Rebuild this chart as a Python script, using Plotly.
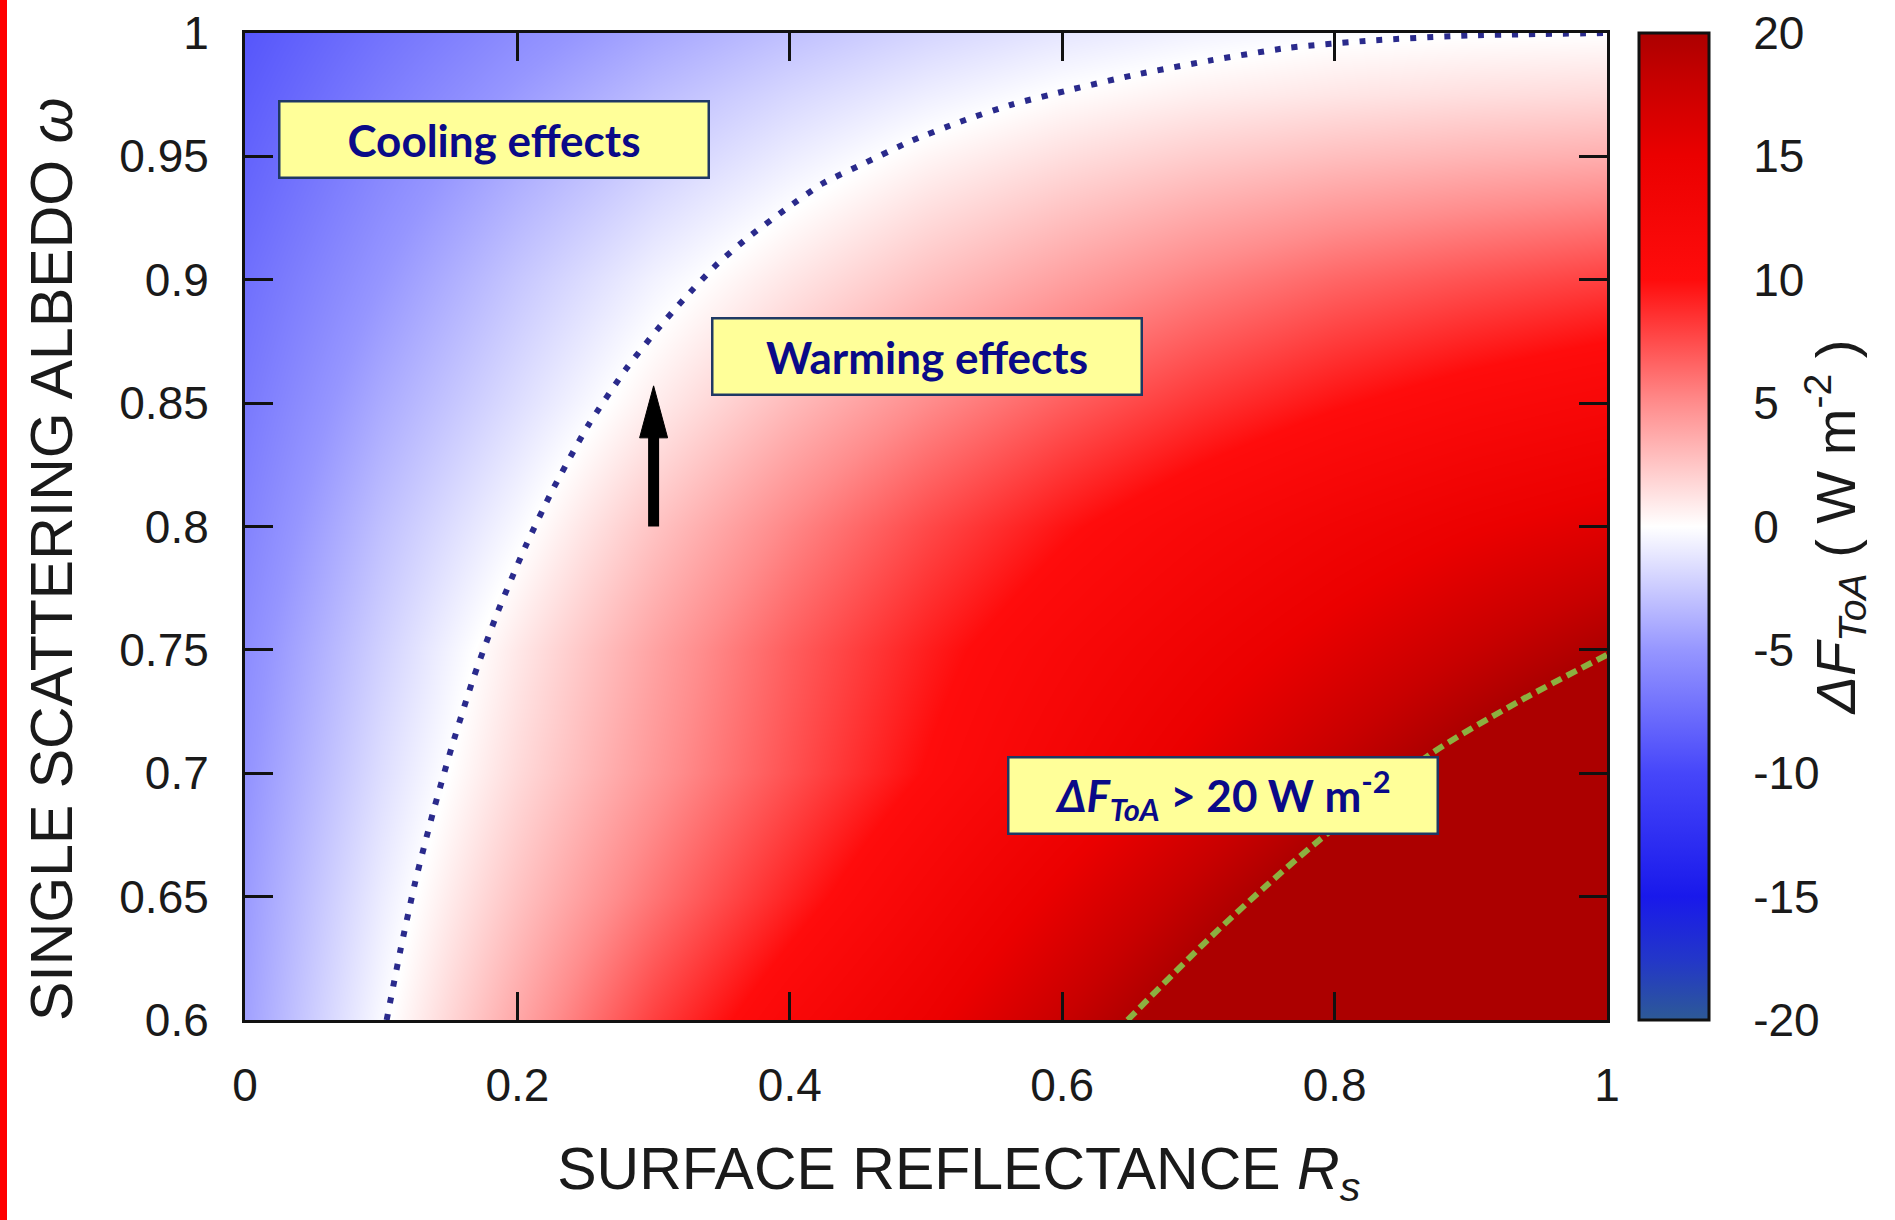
import plotly.graph_objects as go

# ---------------- data ----------------
rs_levels = [0.0, 0.1, 0.2, 0.3, 0.4, 0.5, 0.6, 0.7, 0.8, 0.9, 1.0]
omega_levels = [0.6, 0.65, 0.7, 0.75, 0.8, 0.85, 0.9, 0.95, 0.975, 1.0]

dF_w060 = [-4.5, -0.3, 3.8, 8.0, 11.5, 14.5, 18.0, 21.5, 25.0, 28.0, 31.0]
dF_w065 = [-4.8, -0.9, 2.6, 5.9, 9.1, 12.3, 15.5, 18.7, 21.8, 25.0, 28.0]
dF_w070 = [-5.2, -1.6, 1.6, 4.5, 7.3, 10.1, 12.9, 15.7, 18.5, 21.3, 24.0]
dF_w075 = [-5.6, -2.2, 1.0, 4.0, 6.8, 9.3, 11.6, 13.8, 15.9, 18.0, 20.0]
dF_w080 = [-6.2, -3.0, -0.3, 2.6, 5.2, 7.6, 9.7, 11.6, 13.3, 14.8, 16.0]
dF_w085 = [-6.8, -4.0, -1.6, 0.8, 3.0, 5.0, 6.8, 8.4, 9.8, 11.0, 12.0]
dF_w090 = [-7.4, -5.0, -2.7, -0.6, 1.1, 2.7, 4.1, 5.4, 6.5, 7.3, 8.0]
dF_w095 = [-8.2, -6.0, -4.1, -2.4, -0.9, 0.4, 1.4, 2.2, 2.8, 3.2, 3.5]
dF_w0975 = [-8.6, -6.6, -4.8, -3.2, -1.9, -0.8, 0.1, 0.7, 1.1, 1.4, 1.6]
dF_w100 = [-9.0, -7.2, -5.6, -4.2, -3.0, -2.0, -1.2, -0.6, -0.2, -0.05, 0.0]
dF_rows = [dF_w060, dF_w065, dF_w070, dF_w075, dF_w080,
           dF_w085, dF_w090, dF_w095, dF_w0975, dF_w100]

# zero-forcing boundary (dotted)
zero_rs = [0.104, 0.114, 0.125, 0.138, 0.152, 0.168, 0.186, 0.206, 0.226, 0.252,
           0.280, 0.303, 0.322, 0.346, 0.369, 0.398, 0.424, 0.454, 0.488, 0.525,
           0.563, 0.606, 0.653, 0.710, 0.766, 0.828, 0.899, 1.0]
zero_omega = [0.600, 0.628, 0.656, 0.684, 0.711, 0.739, 0.766, 0.792, 0.815, 0.841,
              0.864, 0.880, 0.892, 0.906, 0.917, 0.929, 0.939, 0.947, 0.956, 0.964,
              0.971, 0.977, 0.983, 0.989, 0.994, 0.997, 0.999, 1.0]

# 20 W m-2 boundary (dashed)
high_rs = [0.648, 0.706, 0.749, 0.789, 0.871, 0.935, 1.0]
high_omega = [0.600, 0.632, 0.654, 0.673, 0.708, 0.729, 0.748]

x_tickvals = [0, 0.2, 0.4, 0.6, 0.8, 1.0]
x_ticktext = ["0", "0.2", "0.4", "0.6", "0.8", "1"]
y_tickvals = [0.6, 0.65, 0.7, 0.75, 0.8, 0.85, 0.9, 0.95, 1.0]
y_ticktext = ["0.6", "0.65", "0.7", "0.75", "0.8", "0.85", "0.9", "0.95", "1"]
cb_tickvals = [-20, -15, -10, -5, 0, 5, 10, 15, 20]
cb_ticktext = ["-20", "-15", "-10", "-5", "0", "5", "10", "15", "20"]
z_min, z_max = -20, 20

# arrow and text boxes
arrow_rs, arrow_tail, arrow_tip = 0.3, 0.8, 0.857
box_cooling = ("<b>Cooling effects</b>", 0.1825, 0.957)
box_warming = ("<b>Warming effects</b>", 0.5005, 0.8687)
box_high = ("<b><i>ΔF</i><sub><i>ToA</i></sub> &gt; 20 W m<sup>-2</sup></b>", 0.7184, 0.6908)

# ---------------- layout constants ----------------
W, H = 1895, 1220
L, R, T, B = 245, 288, 33, 200
PW, PH = W - L - R, H - T - B
CB_THICK = 70
cb_x = (1639 - L) / PW
NB = "&nbsp;"

colorscale = [
    [0.0, "rgb(45,90,150)"],
    [0.06, "rgb(35,55,200)"],
    [0.125, "rgb(25,25,235)"],
    [0.25, "rgb(70,70,250)"],
    [0.375, "rgb(150,150,255)"],
    [0.5, "rgb(255,255,255)"],
    [0.625, "rgb(255,140,140)"],
    [0.75, "rgb(255,12,12)"],
    [0.875, "rgb(235,0,0)"],
    [0.95, "rgb(200,0,0)"],
    [1.0, "rgb(172,0,0)"],
]

fig = go.Figure()
fig.add_trace(go.Heatmap(
    x=rs_levels, y=omega_levels, z=dF_rows,
    zmin=z_min, zmax=z_max, zsmooth="best",
    colorscale=colorscale,
    colorbar=dict(
        x=cb_x, xanchor="left", xpad=0, ypad=0,
        y=0.5, yanchor="middle", len=1, lenmode="fraction",
        thickness=CB_THICK, thicknessmode="pixels",
        outlinewidth=3, outlinecolor="#111",
        tickmode="array", tickvals=cb_tickvals, ticktext=cb_ticktext,
        ticks="outside", ticklen=34, tickcolor="rgba(0,0,0,0)",
        tickfont=dict(size=46, color="#1a1a1a", family="Liberation Sans, Arial"),
        title=dict(text="<i>ΔF</i><sub><i>ToA</i></sub> ( W m<sup>-2</sup> )",
                   side="right",
                   font=dict(size=56, color="#1a1a1a", family="Liberation Sans, Arial")),
    ),
    showscale=True, hoverinfo="skip",
))

fig.add_trace(go.Scatter(
    x=zero_rs, y=zero_omega, mode="lines",
    line=dict(color="#2a2a8c", width=6, dash="6px,11px", shape="spline", smoothing=0.6),
    showlegend=False, hoverinfo="skip",
))
fig.add_trace(go.Scatter(
    x=high_rs, y=high_omega, mode="lines",
    line=dict(color="#8cb040", width=6, dash="11px,6px", shape="spline", smoothing=0.8),
    showlegend=False, hoverinfo="skip",
))

axis_font = dict(size=46, color="#1a1a1a", family="Liberation Sans, Arial")
title_font = dict(size=59, color="#1a1a1a", family="Liberation Sans, Arial")

fig.update_xaxes(
    range=[0, 1], tickmode="array", tickvals=x_tickvals, ticktext=x_ticktext,
    ticks="inside", ticklen=28, tickwidth=3, tickcolor="#111",
    showline=True, linewidth=3, linecolor="#111", mirror="ticks",
    showgrid=False, zeroline=False, tickfont=axis_font, ticklabelstandoff=23,
    title=dict(text=NB * 4 + "SURFACE REFLECTANCE <i>R</i><sub><i>s</i></sub>",
               font=title_font, standoff=38),
)
fig.update_yaxes(
    range=[0.6, 1], tickmode="array", tickvals=y_tickvals, ticktext=y_ticktext,
    ticks="inside", ticklen=28, tickwidth=3, tickcolor="#111",
    showline=True, linewidth=3, linecolor="#111", mirror="ticks",
    showgrid=False, zeroline=False, tickfont=axis_font, ticklabelstandoff=24,
    title=dict(text="SINGLE SCATTERING ALBEDO <i>ω</i>" + NB * 4,
               font=title_font, standoff=28),
)

shapes = []
# inside tick marks on both edges of the colour bar
tl = 20 / PW
cb_w = CB_THICK / PW
for v in cb_tickvals[1:-1]:
    yp = (v - z_min) / (z_max - z_min)
    for xa, xb in ((cb_x, cb_x + tl), (cb_x + cb_w - tl, cb_x + cb_w)):
        shapes.append(dict(type="line", xref="paper", yref="paper",
                           x0=xa, x1=xb, y0=yp, y1=yp,
                           line=dict(color="rgba(20,0,0,0.8)", width=3)))

# arrow
head_len = 52 / PH * 0.4
head_hw = 14 / PW
base = arrow_tip - head_len
shapes.append(dict(type="line", xref="x", yref="y",
                   x0=arrow_rs, x1=arrow_rs, y0=arrow_tail, y1=base + head_len * 0.2,
                   line=dict(color="black", width=11)))
shapes.append(dict(type="path", xref="x", yref="y",
                   path=f"M {arrow_rs - head_hw},{base} L {arrow_rs},{arrow_tip} "
                        f"L {arrow_rs + head_hw},{base} Z",
                   fillcolor="black", line=dict(color="black", width=1)))

# red side rule of the slide
shapes.append(dict(type="rect", xref="paper", yref="paper",
                   x0=-L / PW, x1=(-L + 7) / PW, y0=-B / PH, y1=1 + T / PH,
                   fillcolor="#ff0000", line=dict(width=0), layer="above"))

annotations = []
for text, xv, yv in (box_cooling, box_warming, box_high):
    annotations.append(dict(
        x=xv, y=yv, xref="x", yref="y", text=text, showarrow=False,
        xanchor="center", yanchor="middle",
        width=427, height=74, align="center", valign="middle",
        bgcolor="#ffff99", bordercolor="#1f3864", borderwidth=2.5, borderpad=0,
        font=dict(family="Lato, Open Sans, sans-serif", size=44, color="#0a0a88"),
    ))

fig.update_layout(
    width=W, height=H,
    margin=dict(l=L, r=R, t=T, b=B, autoexpand=False),
    paper_bgcolor="white", plot_bgcolor="white",
    shapes=shapes, annotations=annotations,
    showlegend=False,
    font=dict(family="Liberation Sans, Arial"),
)

fig.write_html(
    "out.html",
    config={"displayModeBar": False},
    post_script="document.body.style.margin='0';document.body.style.overflow='hidden';",
)
